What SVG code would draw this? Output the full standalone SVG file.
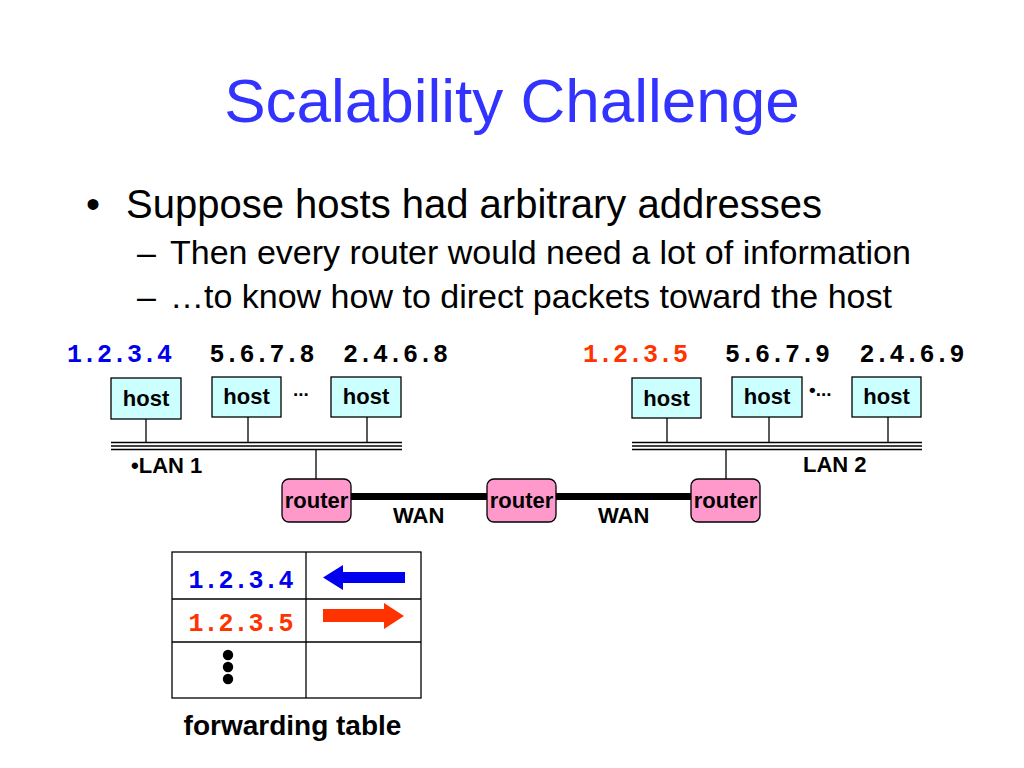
<svg xmlns="http://www.w3.org/2000/svg" width="1024" height="768" viewBox="0 0 1024 768">
<style>
.title{font-family:"Liberation Sans",Arial,sans-serif;font-size:62px;fill:#3333ff;text-anchor:middle}
.b1{font-family:"Liberation Sans",Arial,sans-serif;font-size:40px;fill:#000}
.b2{font-family:"Liberation Sans",Arial,sans-serif;font-size:34px;fill:#000}
.ip{font-family:"Liberation Mono","Courier New",monospace;font-weight:bold;font-size:25px;text-anchor:middle}
.lbl{font-family:"Liberation Sans",Arial,sans-serif;font-weight:bold;font-size:22px;fill:#000}
.dots{font-size:19px}
.cap{font-size:28px}
.mid{text-anchor:middle}
.host rect{fill:#ccffff;stroke:#000;stroke-width:1.3}
.router rect{fill:#ff99cc;stroke:#000;stroke-width:1.3}
.thin{stroke:#000;stroke-width:1.3;fill:none}
.wan{stroke:#000;stroke-width:7}
.grid{stroke:#000;stroke-width:1.3;fill:none}
</style>
<rect width="1024" height="768" fill="#fff"/>
<text class="title" x="512" y="122">Scalability Challenge</text>
<text class="b1" x="86" y="218">•</text>
<text class="b1" x="126" y="218">Suppose hosts had arbitrary addresses</text>
<text class="b2" x="137" y="264">–</text>
<text class="b2" x="170" y="264">Then every router would need a lot of information</text>
<text class="b2" x="137" y="308">–</text>
<text class="b2" x="170" y="308">…to know how to direct packets toward the host</text>

<g id="ip-labels">
<text class="ip" x="119.5" y="362" fill="#0000ee">1.2.3.4</text>
<text class="ip" x="262" y="362" fill="#000">5.6.7.8</text>
<text class="ip" x="395.5" y="362" fill="#000">2.4.6.8</text>
<text class="ip" x="635.5" y="362" fill="#ff3300">1.2.3.5</text>
<text class="ip" x="777.5" y="362" fill="#000">5.6.7.9</text>
<text class="ip" x="912" y="362" fill="#000">2.4.6.9</text>
</g>

<g id="connectors">
<g id="lan1-bus">
<line class="thin" x1="111" y1="442.5" x2="402" y2="442.5"/>
<line class="thin" x1="111" y1="446" x2="402" y2="446"/>
<line class="thin" x1="111" y1="449.5" x2="402" y2="449.5"/>
</g>
<g id="lan2-bus">
<line class="thin" x1="632" y1="442.5" x2="922" y2="442.5"/>
<line class="thin" x1="632" y1="446" x2="922" y2="446"/>
<line class="thin" x1="632" y1="449.5" x2="922" y2="449.5"/>
</g>
<line class="thin" x1="146" y1="419" x2="146" y2="442.5"/>
<line class="thin" x1="248" y1="417" x2="248" y2="442.5"/>
<line class="thin" x1="367" y1="417" x2="367" y2="442.5"/>
<line class="thin" x1="316" y1="449.5" x2="316" y2="479"/>
<line class="thin" x1="667" y1="418" x2="667" y2="442.5"/>
<line class="thin" x1="769" y1="417" x2="769" y2="442.5"/>
<line class="thin" x1="888" y1="417" x2="888" y2="442.5"/>
<line class="thin" x1="726" y1="449.5" x2="726" y2="479"/>
<line class="wan" x1="350" y1="496.5" x2="488" y2="496.5"/>
<line class="wan" x1="555" y1="496.5" x2="693" y2="496.5"/>
</g>

<g id="host1" class="host"><rect x="111" y="378" width="70" height="41"/><text class="lbl mid" x="146" y="406">host</text></g>
<g id="host2" class="host"><rect x="212" y="377" width="69" height="40"/><text class="lbl mid" x="246.5" y="404">host</text></g>
<g id="host3" class="host"><rect x="331" y="377" width="70" height="40"/><text class="lbl mid" x="366" y="404">host</text></g>
<g id="host4" class="host"><rect x="632" y="378" width="69" height="40"/><text class="lbl mid" x="666.5" y="406">host</text></g>
<g id="host5" class="host"><rect x="732" y="377" width="70" height="40"/><text class="lbl mid" x="767" y="404">host</text></g>
<g id="host6" class="host"><rect x="852" y="377" width="69" height="40"/><text class="lbl mid" x="886.5" y="404">host</text></g>

<text class="lbl dots" x="293" y="396">...</text>
<text class="lbl dots" x="809" y="396">•...</text>

<text class="lbl" x="131" y="473">•LAN 1</text>
<text class="lbl" x="803" y="472">LAN 2</text>

<g id="router1" class="router"><rect x="282" y="479" width="69" height="43" rx="7"/><text class="lbl mid" x="316.5" y="508">router</text></g>
<g id="router2" class="router"><rect x="487" y="479" width="69" height="43" rx="7"/><text class="lbl mid" x="521.5" y="508">router</text></g>
<g id="router3" class="router"><rect x="691" y="479" width="69" height="43" rx="7"/><text class="lbl mid" x="725.5" y="508">router</text></g>

<text class="lbl" x="393" y="523">WAN</text>
<text class="lbl" x="598" y="523">WAN</text>

<g id="forwarding-table">
<rect class="grid" x="172" y="552" width="249" height="146"/>
<line class="grid" x1="306" y1="552" x2="306" y2="698"/>
<line class="grid" x1="172" y1="599" x2="421" y2="599"/>
<line class="grid" x1="172" y1="642" x2="421" y2="642"/>
<text class="ip" x="241" y="588" fill="#0000ee">1.2.3.4</text>
<text class="ip" x="241" y="631" fill="#ff3300">1.2.3.5</text>
<polygon points="405,572 343,572 343,565 323,577.5 343,590 343,583 405,583" fill="#0000ee"/>
<polygon points="323,609 384,609 384,603 404,616 384,629 384,622 323,622" fill="#ff3300"/>
<circle cx="228" cy="655" r="5.2" fill="#000"/>
<circle cx="228" cy="667" r="5.2" fill="#000"/>
<circle cx="228" cy="679" r="5.2" fill="#000"/>
</g>
<text class="lbl cap mid" x="292.5" y="735">forwarding table</text>
</svg>
